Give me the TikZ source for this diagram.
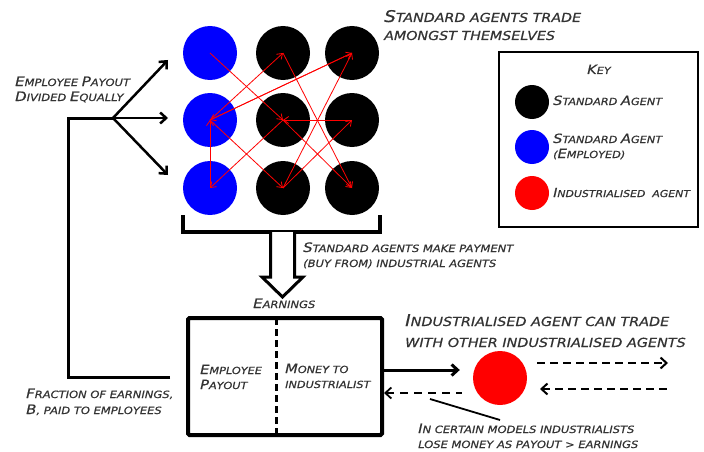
\documentclass[tikz,border=0pt]{standalone}
\usepackage{fontspec}
\newfontfamily\lab[FakeStretch=1.15,FakeBold=0.6]{DejaVu Sans}
\usetikzlibrary{arrows.meta,calc}
\newcommand\bl[1]{\scalebox{1.3}{#1}}
\begin{document}
\begin{tikzpicture}[x=1pt,y=-1pt,
  lbl/.style={inner sep=0pt, anchor=base west, align=left, text=black!80, font=\lab\itshape},
  std/.style={circle, fill=black, minimum size=54pt, inner sep=0pt},
  emp/.style={std, fill=blue},
  ind/.style={std, fill=red},
  keyc/.style={circle, inner sep=0pt, minimum size=34pt},
  trade/.style={red, line width=0.8pt, -{Straight Barb[length=5pt,width=7pt]}},
  barb/.style={-{Straight Barb[length=6pt,width=11pt]}},
  lbarb/.style={{Straight Barb[length=6pt,width=11pt]}-},
  dashline/.style={line width=2pt, dash pattern=on 8pt off 5pt}
]
\useasboundingbox (0,0) rectangle (704,452);
% grid of agents
\node[emp] (c11) at (210,53) {};
\node[std] (c12) at (283,53) {};
\node[std] (c13) at (352,53) {};
\node[emp] (c21) at (210,120) {};
\node[std] (c22) at (283,120) {};
\node[std] (c23) at (352,120) {};
\node[emp] (c31) at (210,188) {};
\node[std] (c32) at (283,188) {};
\node[std] (c33) at (352,188) {};
% trades
\draw[trade] (c11.center) -- (c22.center);
\draw[trade] (c21.center) -- (c13.center);
\draw[trade] (c12.center) -- (c33.center);
\draw[trade] (c21.center) -- (c12.center);
\draw[trade] (c21.center) -- (c32.center);
\draw[trade] (c32.center) -- (c13.center);
\draw[trade] (c32.center) -- (c23.center);
\draw[trade] (c23.center) -- (c22.center);
\draw[trade] (c22.center) -- (c33.center);
\draw[trade] (c22.center) -- (c31.center);
\draw[trade] (c31.center) -- (c21.center);
\draw[trade] (c13.center) -- (c21.center);
% bracket
\draw[line width=4pt] (183,215) -- (183,232) -- (380,232) -- (380,215);
% hollow arrow
\draw[line width=3pt, fill=white, line join=miter]
  (270.5,232) -- (270.5,277) -- (262,277) -- (282.5,297) -- (303,277) -- (294.5,277) -- (294.5,232);
% title texts
\node[lbl, font=\lab\itshape\fontsize{12.4}{18}\selectfont] (title) at (384,40)
  {\bl{S}TANDARD AGENTS TRADE\\AMONGST THEMSELVES};
\node[lbl, font=\lab\itshape\fontsize{10}{15}\selectfont] (pay) at (303,267)
  {\bl{S}TANDARD AGENTS MAKE PAYMENT\\(BUY FROM) INDUSTRIAL AGENTS};
\node[lbl, font=\lab\itshape\fontsize{10}{12}\selectfont] (earn) at (253,308)
  {\bl{E}ARNINGS};
% lower box
\node[draw, line width=4pt, minimum width=194pt, minimum height=117pt, rounded corners=1.5pt] (box) at (285,376.5) {};
\draw[line width=3pt, dash pattern=on 7pt off 4pt] (276,318) -- (276,435);
\node[lbl, font=\lab\itshape\fontsize{9.8}{15}\selectfont] (emppay) at (200,389)
  {\bl{E}MPLOYEE\\\bl{P}AYOUT};
\node[lbl, font=\lab\itshape\fontsize{9.8}{15}\selectfont] (money) at (285,388)
  {\bl{M}ONEY TO\\INDUSTRIALIST};
% feedback loop
\coordinate (fbstart) at (170,377);
\coordinate (fork) at (113,118);
\coordinate (t1) at (168,60);
\coordinate (t2) at (168,118);
\coordinate (t3) at (168,175);
\draw[line width=3pt] (fbstart) -- (68,377) -- (68,118) -- (fork);
\draw[line width=2.5pt, barb] (fork) -- (t1);
\draw[line width=2.5pt, barb] (fork) -- (t2);
\draw[line width=2.5pt, barb] (fork) -- (t3);
\node[lbl, font=\lab\itshape\fontsize{10}{15}\selectfont] (divided) at (15,101)
  {\bl{E}MPLOYEE \bl{P}AYOUT\\\bl{D}IVIDED \bl{E}QUALLY};
\node[lbl, font=\lab\itshape\fontsize{10}{16}\selectfont] (frac) at (26,414)
  {\bl{F}RACTION OF EARNINGS,\\\bl{B}, PAID TO EMPLOYEES};
% industrialised agent
\node[ind] (indA) at (500,378) {};
\draw[line width=3pt, barb] (box.east |- 0,370) -- ($(indA.west)+(-13,-8)$);
\draw[line width=1.8pt, dash pattern=on 8pt off 6pt, lbarb] (box.east |- 0,393) -- ($(indA.west)+(-11,15)$);
\draw[line width=1.8pt] (430,399) -- (500,420);
\coordinate (r1a) at (537,363);
\coordinate (r1b) at (668,363);
\coordinate (r2a) at (540,389);
\coordinate (r2b) at (668,389);
\draw[dashline, barb] (r1a) -- (r1b);
\draw[dashline, lbarb] (r2a) -- (r2b);
\node[lbl, font=\lab\itshape\fontsize{12.5}{21}\selectfont] (indtxt) at (405,347)
  {\bl{I}NDUSTRIALISED AGENT CAN TRADE\\WITH OTHER INDUSTRIALISED AGENTS};
\node[lbl, font=\lab\itshape\fontsize{10}{15}\selectfont] (certain) at (418,448)
  {\bl{I}N CERTAIN MODELS INDUSTRIALISTS\\LOSE MONEY AS PAYOUT > EARNINGS};
% key
\node[draw, line width=2pt, minimum width=199pt, minimum height=175pt] (key) at (598.5,139.5) {};
\node[lbl, font=\lab\itshape\fontsize{9.8}{12}\selectfont] (keyt) at (587,74) {\bl{K}EY};
\node[keyc, fill=black] (k1) at (532,102) {};
\node[keyc, fill=blue] (k2) at (532,147) {};
\node[keyc, fill=red] (k3) at (532,193) {};
\node[lbl, font=\lab\itshape\fontsize{9.8}{15}\selectfont] (k1t) at (553,105) {\bl{S}TANDARD \bl{A}GENT};
\node[lbl, font=\lab\itshape\fontsize{9.8}{15}\selectfont] (k2t) at (553,158) {\bl{S}TANDARD \bl{A}GENT\\(\bl{E}MPLOYED)};
\node[lbl, font=\lab\itshape\fontsize{9.5}{15}\selectfont] (k3t) at (553,197) {\bl{I}NDUSTRIALISED\ \ AGENT};
\end{tikzpicture}
\end{document}
